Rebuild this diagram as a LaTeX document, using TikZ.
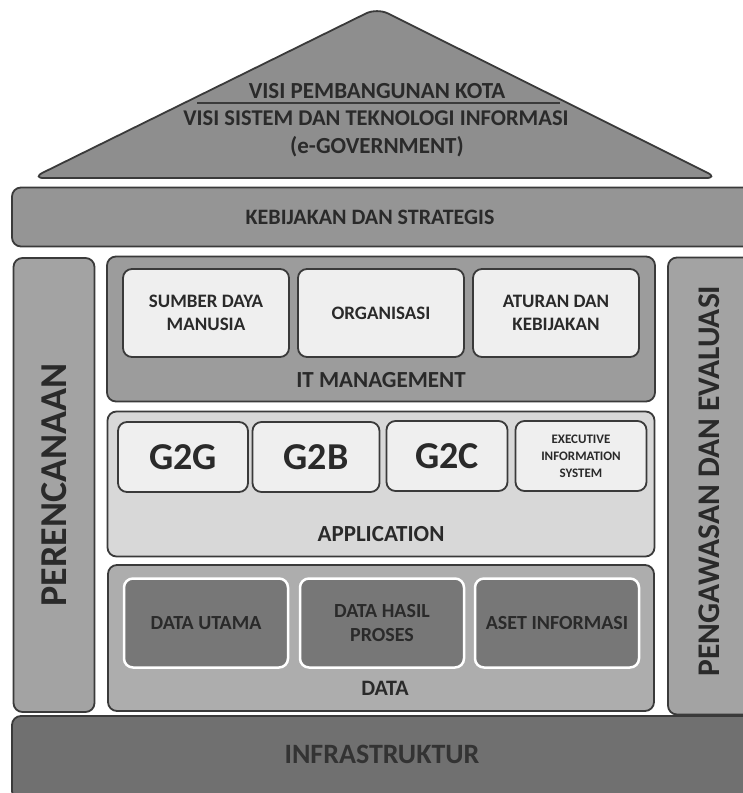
\documentclass[tikz,border=0pt]{standalone}
\usepackage{fontspec}
\setmainfont{Carlito}
\definecolor{edge}{HTML}{3A3A3A}
\definecolor{txt}{HTML}{2A2A2A}
\definecolor{roofc}{HTML}{8E8E8E}
\definecolor{policyc}{HTML}{959595}
\definecolor{sidec}{HTML}{A3A3A3}
\definecolor{itc}{HTML}{9C9C9C}
\definecolor{appc}{HTML}{D8D8D8}
\definecolor{datac}{HTML}{ADADAD}
\definecolor{datain}{HTML}{777777}
\definecolor{innerc}{HTML}{EFEFEF}
\definecolor{infrac}{HTML}{707070}
\newcommand{\fs}[2]{\fontsize{#1}{#2}\selectfont}
\tikzset{
  panel/.style={draw=edge, line width=1.8pt, rounded corners=9pt, inner sep=0pt, outer sep=0pt, text=txt},
  whitebox/.style={panel, fill=innerc, align=center},
  darkbox/.style={draw=white, line width=2.5pt, rounded corners=9pt, fill=datain, inner sep=0pt, outer sep=0pt, text=txt, align=center},
  lbl/.style={text=txt, inner sep=0pt, align=center},
}
\begin{document}
\begin{tikzpicture}[x=1pt,y=-1pt]
\useasboundingbox (0,0) rectangle (743,793);
\clip (0,0) rectangle (743,793);
\fill[white] (0,0) rectangle (743,793);

% roof
\draw[draw=edge, line width=1.8pt, fill=roofc, rounded corners=12pt] (377,8) -- (718,178) -- (32,178) -- cycle;
\node[lbl, font=\bfseries\fs{23}{27}] (visi1) at (377,91) {VISI PEMBANGUNAN KOTA};
\node[lbl, font=\bfseries\fs{22.5}{27}] (visi2) at (376,118) {VISI SISTEM DAN TEKNOLOGI INFORMASI};
\node[lbl, font=\bfseries\fs{23}{27}] (visi3) at (377,147) {(e-GOVERNMENT)};
\coordinate (l1) at (197,103);
\coordinate (l2) at (560,103);
\draw[edge, line width=1.6pt] (l1) -- (l2);

% policy bar
\node[panel, fill=policyc, minimum width=800pt, minimum height=59pt] (policy) at (412,217) {};
\node[lbl, font=\bfseries\fs{22}{26}] (policyt) at (370,217) {KEBIJAKAN DAN STRATEGIS};

% side bars
\node[panel, fill=sidec, minimum width=81pt, minimum height=454pt] (plan) at (54,485) {};
\node[lbl, rotate=90, font=\bfseries\fs{38}{44}] (plant) at (54,485) {PERENCANAAN};
\node[panel, fill=sidec, minimum width=120pt, minimum height=457pt] (eval) at (728,486) {};
\node[lbl, rotate=90, font=\bfseries\fs{31.5}{36}] (evalt) at (709,481) {PENGAWASAN DAN EVALUASI};

% IT management
\node[panel, fill=itc, minimum width=548pt, minimum height=145pt] (itm) at (381,329) {};
\node[whitebox, minimum width=166pt, minimum height=88pt, font=\bfseries\fs{19}{23}] (sdm) at (206,313) {SUMBER DAYA\\MANUSIA};
\node[whitebox, minimum width=166pt, minimum height=88pt, font=\bfseries\fs{19}{23}] (org) at (381,313) {ORGANISASI};
\node[whitebox, minimum width=166pt, minimum height=88pt, font=\bfseries\fs{19}{23}] (atur) at (556,313) {ATURAN DAN\\KEBIJAKAN};
\node[lbl, font=\bfseries\fs{23}{27}] (itmt) at (381,380) {IT MANAGEMENT};

% application
\node[panel, fill=appc, minimum width=547pt, minimum height=145pt] (app) at (381,484) {};
\node[whitebox, minimum width=130pt, minimum height=70pt, font=\bfseries\fs{38}{44}] (g2g) at (183,457) {G2G};
\node[whitebox, minimum width=127pt, minimum height=70pt, font=\bfseries\fs{38}{44}] (g2b) at (316,457) {G2B};
\node[whitebox, minimum width=121pt, minimum height=70pt, font=\bfseries\fs{38}{44}] (g2c) at (447,456) {G2C};
\node[whitebox, minimum width=131pt, minimum height=70pt, font=\bfseries\fs{13}{17}] (eis) at (581,456) {EXECUTIVE\\INFORMATION\\SYSTEM};
\node[lbl, font=\bfseries\fs{23}{27}] (appt) at (381,534) {APPLICATION};

% data
\node[panel, fill=datac, minimum width=546pt, minimum height=146pt] (data) at (381,638) {};
\node[darkbox, minimum width=164pt, minimum height=89pt, font=\bfseries\fs{20}{24}] (utama) at (206,623) {DATA UTAMA};
\node[darkbox, minimum width=164pt, minimum height=89pt, font=\bfseries\fs{20}{24}] (hasil) at (382,623) {DATA HASIL\\PROSES};
\node[darkbox, minimum width=164pt, minimum height=89pt, font=\bfseries\fs{20}{24}] (aset) at (557,623) {ASET INFORMASI};
\node[lbl, font=\bfseries\fs{22}{26}] (datat) at (385,688) {DATA};

% infrastructure
\node[panel, fill=infrac, minimum width=800pt, minimum height=84pt] (infra) at (412,758) {};
\node[lbl, text=black!80, font=\bfseries\fs{28}{32}] (infrat) at (382,754) {INFRASTRUKTUR};
\end{tikzpicture}
\end{document}
